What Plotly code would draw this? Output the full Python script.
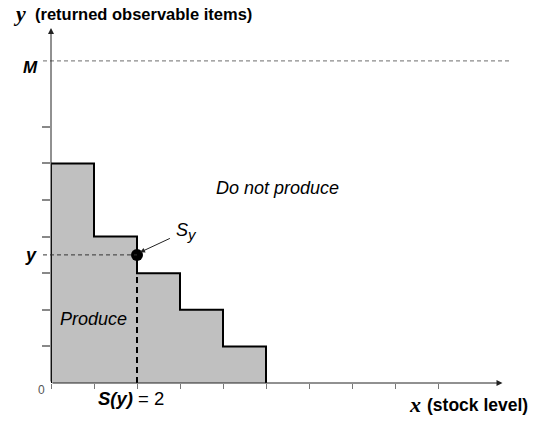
import plotly.graph_objects as go

# ---- data ----
step_x = [0, 0, 1, 2, 3, 4, 5]          # staircase break points (stock level)
step_y = [0, 6, 4, 3, 2, 1, 0]          # returned observable items threshold
x_ticks = [0, 1, 2, 3, 4, 5, 6, 7, 8, 9]
y_ticks = [1, 2, 3, 4, 5, 6, 7]
M_level = 8.8
y_level = 3.5
S_of_y = 2
x_arrow_end = 10.5
y_arrow_end = 9.7

# ---- layout geometry (page body margin removed below) ----
W, H = 533, 421
ML, MR, MT, MB = 51, 9, 21, 38
PW, PH = W - ML - MR, H - MT - MB
X_MAX = PW / 43.0
Y_MAX = PH / 36.6

def xp(v, dpx=0):
    return v / X_MAX + dpx / PW

def yp(v, dpx=0):
    return v / Y_MAX + dpx / PH

SANS = "Liberation Sans, Arial, sans-serif"
SERIF = "Liberation Serif, Times New Roman, serif"

fig = go.Figure()

# staircase (produce region)
fig.add_trace(go.Scatter(
    x=step_x, y=step_y, mode="lines", line_shape="hv",
    fill="toself", fillcolor="#c0c0c0",
    line=dict(color="black", width=2), hoverinfo="skip", showlegend=False))

# S(y) point
fig.add_trace(go.Scatter(
    x=[S_of_y], y=[y_level], mode="markers",
    marker=dict(color="black", size=12), cliponaxis=False,
    hoverinfo="skip", showlegend=False))

shapes = [
    dict(type="line", xref="paper", yref="y", x0=xp(0, -8), x1=xp(0, 460),
         y0=M_level, y1=M_level, line=dict(color="#8a8a8a", width=1.2, dash="4px,3px")),
    dict(type="line", xref="paper", yref="y", x0=xp(0, -8), x1=xp(S_of_y),
         y0=y_level, y1=y_level, line=dict(color="#333", width=1, dash="4px,3px")),
    dict(type="line", xref="x", yref="y", x0=S_of_y, x1=S_of_y,
         y0=0, y1=y_level, line=dict(color="black", width=2, dash="6px,4px")),
]

ann = []
for (tx, ty) in [(x_arrow_end, 0), (0, y_arrow_end)]:
    ann.append(dict(x=tx, y=ty, ax=0, ay=0, xref="x", yref="y",
                    axref="x", ayref="y",
                    text="", showarrow=True, arrowhead=2, arrowsize=1.2, arrowwidth=1,
                    arrowcolor="#222"))
# Sy arrow
ann.append(dict(x=2.07, y=3.57, ax=2.8, ay=3.97, xref="x", yref="y", axref="x", ayref="y",
                text="", showarrow=True, arrowhead=2, arrowsize=1, arrowwidth=1,
                arrowcolor="#222"))

def label(text, x, y, size, family=SANS, color="black", xanchor="center"):
    ann.append(dict(text=text, x=xp(x), y=yp(y), xref="paper", yref="paper", showarrow=False,
                    xanchor=xanchor, yanchor="middle",
                    font=dict(size=size, family=family, color=color)))

label("<i>Do not produce</i>", 5.26, 5.33, 18)
label("<i>Produce</i>", 0.98, 1.75, 18)
label("<i>S</i><sub><span style='font-size:15px'><i>y</i></span></sub>", 3.15, 4.13, 18)
label("<b><i>M</i></b>", -0.47, 8.62, 17)
label("<b><i>y</i></b>", -0.47, 3.5, 18)
label("0", -0.21, -0.18, 12, color="#555")
label("<b><i>S(y)</i></b> = 2", 1.86, -0.43, 18.5)
label("<b><i>y</i></b>", -0.74, 10.1, 22, family=SERIF)
label("<b>(returned observable items)</b>", -0.42, 10.08, 16.5, xanchor="left")
label("<b><i>x</i></b>", 8.47, -0.6, 22, family=SERIF)
label("<b>(stock level)</b>", 8.7, -0.6, 17.5, xanchor="left")

fig.update_layout(
    width=W, height=H, margin=dict(l=ML, r=MR, t=MT, b=MB),
    paper_bgcolor="white", plot_bgcolor="white",
    shapes=shapes, annotations=ann,
    xaxis=dict(range=[0, X_MAX], showgrid=False, zeroline=False, showline=False,
               tickvals=x_ticks, ticks="outside", ticklen=5, tickwidth=1.2,
               tickcolor="#777", showticklabels=False, fixedrange=True),
    yaxis=dict(range=[0, Y_MAX], showgrid=False, zeroline=False, showline=False,
               tickvals=y_ticks, ticks="outside", ticklen=8, tickwidth=1.5,
               tickcolor="#888", showticklabels=False, fixedrange=True),
)

fig.write_html("out.html", config={"displayModeBar": False},
               post_script="document.body.style.margin='0';")
